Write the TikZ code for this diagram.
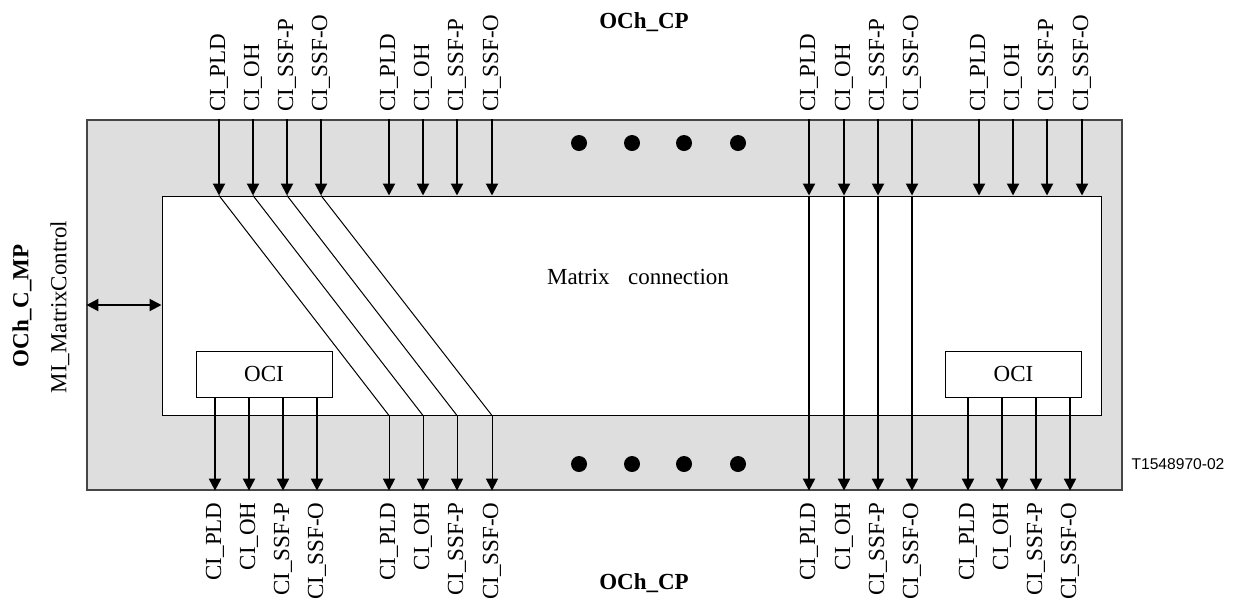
\documentclass[tikz,border=0pt]{standalone}
\usepackage{fontspec}
\setmainfont{Liberation Serif}
\setsansfont{Liberation Sans}
\usepackage{tikz}
\usetikzlibrary{positioning,calc,arrows.meta}
\definecolor{chGray}{RGB}{222,222,222}
\definecolor{chEdge}{RGB}{70,70,70}

\begin{document}
\begin{tikzpicture}[
  x=0.5pt,y=-0.5pt,
  font=\fontsize{11.5}{13}\selectfont,
  outerbox/.style={rectangle,draw=chEdge,fill=chGray,line width=0.6pt,minimum width=517.5pt,minimum height=185pt,inner sep=0pt},
  mxbox/.style={rectangle,draw=black,fill=white,line width=0.5pt,minimum width=469.5pt,minimum height=109.5pt,inner sep=0pt},
  ocibox/.style={rectangle,draw=black,fill=white,line width=0.5pt,minimum width=68pt,minimum height=23pt,inner sep=0pt},
  sigtop/.style={rotate=90,anchor=west,inner sep=1pt},
  sigbot/.style={rotate=90,anchor=east,inner sep=1pt},
  title/.style={font=\fontsize{11.5}{13}\selectfont\bfseries},
  sig/.style={-{Triangle[length=6pt,width=6pt]},line width=1pt},
  thinsig/.style={-{Triangle[length=6pt,width=6pt]},line width=0.5pt},
  link/.style={line width=0.5pt}
]
  \useasboundingbox (0,0) rectangle (1234,602);

  \node[outerbox] (cp) at (604.5,305) {};
  \node[mxbox] (mx) at (631.5,305.5) {};
  \node (mxlbl) at (638,277) {Matrix\hspace{0.8em}connection};
  \node[ocibox] (ocil) at (264,374) {OCI};
  \node[ocibox] (ocir) at (1013.5,374) {OCI};

  % management point
  \node[title,rotate=90] (mp) at (22,306) {OCh\_C\_MP};
  \node[rotate=90] (mi) at (60,307) {MI\_MatrixControl};
  \draw[{Triangle[length=6pt,width=6pt]}-{Triangle[length=6pt,width=6pt]},line width=1pt] (cp.west) -- (cp.west -| mx.west);

  \node[title] (cptop) at (644,22) {OCh\_CP};
  \node[title] (cpbot) at (644,583) {OCh\_CP};
  \node[font=\sffamily\fontsize{7.8}{9}\selectfont] (fig) at (1178,464) {T1548970-02};

  % inputs
  \foreach \x/\t [count=\i] in {219/PLD,253/OH,287/SSF-P,321/SSF-O,389/PLD,423/OH,457/SSF-P,492/SSF-O,809/PLD,844/OH,878/SSF-P,912/SSF-O,979/PLD,1013/OH,1047/SSF-P,1082/SSF-O}{
    \node[sigtop] (top\i) at (\x,114) {CI\_\t};
    \draw[sig] (top\i.west |- cp.north) -- (top\i.west |- mx.north);
  }

  % outputs
  \foreach \x/\t [count=\i] in {215/PLD,249/OH,283/SSF-P,317/SSF-O,389/PLD,423/OH,457/SSF-P,492/SSF-O,809/PLD,844/OH,878/SSF-P,912/SSF-O,968/PLD,1002/OH,1036/SSF-P,1070/SSF-O}{
    \node[sigbot] (bot\i) at (\x,500) {CI\_\t};
  }
  \foreach \i in {1,...,4}{
    \draw[sig] (bot\i.east |- ocil.south) -- (bot\i.east |- cp.south);
  }
  \foreach \i [evaluate=\i as \j using int(\i-4)] in {5,...,8}{
    \draw[link] (top\j.west |- mx.north) -- (bot\i.east |- mx.south);
    \draw[thinsig] (bot\i.east |- mx.south) -- (bot\i.east |- cp.south);
  }
  \foreach \i in {9,...,12}{
    \draw[sig] (top\i.west |- mx.north) -- (bot\i.east |- cp.south);
  }
  \foreach \i in {13,...,16}{
    \draw[sig] (bot\i.east |- ocir.south) -- (bot\i.east |- cp.south);
  }

  \foreach \x in {579,632,684,738}{
    \fill (\x,143) circle (4pt);
    \fill (\x,464) circle (4pt);
  }
\end{tikzpicture}
\end{document}
